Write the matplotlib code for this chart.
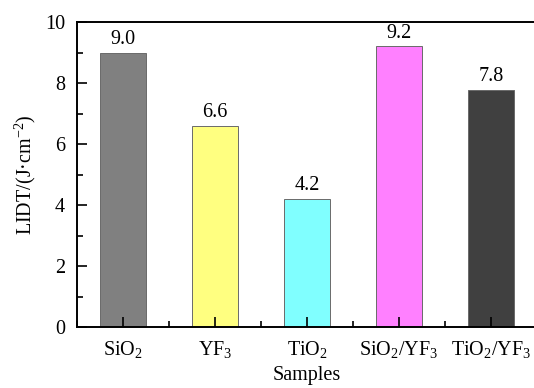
import numpy as np
import matplotlib
matplotlib.use('Agg')
import matplotlib.pyplot as plt
from matplotlib.ticker import MultipleLocator

plt.rcParams['font.family'] = ['Liberation Serif', 'DejaVu Serif']
plt.rcParams['mathtext.fontset'] = 'custom'
plt.rcParams['mathtext.rm'] = 'Liberation Serif'
plt.rcParams['mathtext.it'] = 'Liberation Serif:italic'
plt.rcParams['mathtext.bf'] = 'Liberation Serif:bold'

# data
samples = ['SiO$_2$', 'YF$_3$', 'TiO$_2$', 'SiO$_2$/YF$_3$', 'TiO$_2$/YF$_3$']
lidt = [9.0, 6.6, 4.2, 9.2, 7.77]
lidt_labels = ['9.0', '6.6', '4.2', '9.2', '7.8']
colors = ['#808080', '#ffff80', '#80ffff', '#ff80ff', '#404040']

fs = 14.5
fig = plt.figure(figsize=(5.34, 3.88), dpi=100)
ax = fig.add_axes([77/534, 1 - 327/388, 460/534, 305/388])

x = np.arange(len(samples))
bars = ax.bar(x, lidt, width=0.5, color=colors, edgecolor='#6a6a6a', linewidth=0.7)
for b, lab in zip(bars, lidt_labels):
    ax.text(b.get_x() + b.get_width()/2, b.get_height() + 0.12, lab,
            ha='center', va='bottom', fontsize=fs)

ax.set_xlim(-0.5, 4.5)
ax.set_ylim(0, 10)
ax.set_xticks(x)
ax.set_xticklabels(samples, fontsize=fs)
ax.xaxis.set_minor_locator(MultipleLocator(1, offset=0.5))
ax.yaxis.set_major_locator(MultipleLocator(2))
ax.yaxis.set_minor_locator(MultipleLocator(1))
ax.tick_params(axis='both', which='major', direction='in', length=7, width=1.2,
               labelsize=fs)
ax.tick_params(axis='y', which='major', pad=8.5)
ax.tick_params(axis='x', which='major', pad=9)
ax.tick_params(axis='both', which='minor', direction='in', length=4, width=1.2)
ax.tick_params(axis='y', which='both', right=False)
ax.tick_params(axis='x', which='both', top=False)
for s in ax.spines.values():
    s.set_linewidth(1.4)

ax.set_xlabel('Samples', fontsize=fs, labelpad=4)
ax.set_ylabel('LIDT/(J·cm$^{-2}$)', fontsize=fs, labelpad=5)

fig.savefig('out.png', dpi=100)
